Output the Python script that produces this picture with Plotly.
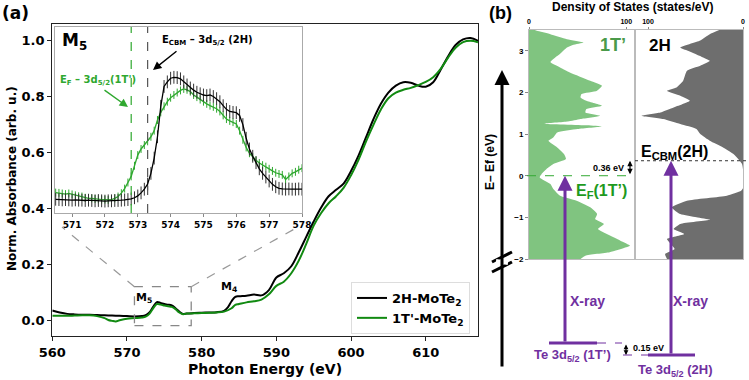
import plotly.graph_objects as go

W, H = 749, 380

# ---------------- DATA ----------------
# Panel (a) main XAS spectra
e_2h = [560, 561, 562, 563, 564, 565, 566, 567, 568, 569, 570, 571, 572, 572.5, 573, 573.5,
        574, 574.5, 575, 575.5, 576, 576.5, 577, 577.5, 578, 579, 580, 581, 582, 583, 583.5,
        584, 584.5, 585, 586, 587, 588, 589, 590, 591, 592, 593, 594, 595, 596, 597, 598,
        599, 600, 601, 602, 603, 604, 605, 606, 607, 608, 609, 610, 611, 612, 613, 614,
        615, 616, 617]
abs_2h = [0.037, 0.030, 0.025, 0.023, 0.022, 0.022, 0.021, 0.020, 0.019, 0.018, 0.017, 0.016,
          0.017, 0.020, 0.030, 0.050, 0.067, 0.064, 0.060, 0.058, 0.055, 0.045, 0.033, 0.025,
          0.026, 0.028, 0.029, 0.030, 0.031, 0.036, 0.048, 0.070, 0.086, 0.088, 0.090, 0.094,
          0.091, 0.110, 0.155, 0.170, 0.195, 0.245, 0.300, 0.355, 0.405, 0.445, 0.468, 0.490,
          0.535, 0.590, 0.655, 0.720, 0.775, 0.815, 0.840, 0.852, 0.850, 0.840, 0.836, 0.852,
          0.897, 0.945, 0.985, 1.005, 1.010, 1.000]

e_1t = [560, 561, 562, 563, 564, 565, 566, 567, 567.5, 568, 568.5, 569, 570, 571, 572, 572.5,
        573, 573.5, 574, 574.5, 575, 575.5, 576, 576.5, 577, 577.5, 578, 579, 580, 581, 582,
        583, 584, 584.5, 585, 586, 587, 588, 589, 590, 591, 592, 593, 594, 595, 596, 597, 598,
        599, 600, 601, 602, 603, 604, 605, 606, 607, 608, 609, 610, 611, 612, 613, 614, 615,
        616, 617]
abs_1t = [0.018, 0.018, 0.018, 0.019, 0.020, 0.020, 0.017, 0.010, 0.003, 0.000, -0.002, 0.002,
          0.008, 0.010, 0.012, 0.015, 0.025, 0.045, 0.060, 0.058, 0.055, 0.052, 0.050, 0.042,
          0.030, 0.024, 0.026, 0.027, 0.028, 0.029, 0.030, 0.033, 0.045, 0.057, 0.060, 0.066,
          0.070, 0.076, 0.095, 0.125, 0.140, 0.170, 0.215, 0.275, 0.340, 0.385, 0.420, 0.445,
          0.475, 0.520, 0.575, 0.640, 0.700, 0.755, 0.795, 0.815, 0.825, 0.832, 0.842, 0.853,
          0.870, 0.900, 0.940, 0.975, 0.995, 1.000, 0.995]

# Inset (M5 edge) with error bars
e_inset = [570.5, 570.6, 570.7, 570.8, 570.9, 571.0, 571.1, 571.2, 571.3, 571.4, 571.5, 571.6,
           571.7, 571.8, 571.9, 572.0, 572.1, 572.2, 572.3, 572.4, 572.5, 572.6, 572.7, 572.8,
           572.9, 573.0, 573.1, 573.2, 573.3, 573.4, 573.5, 573.6, 573.7, 573.8, 573.9, 574.0,
           574.1, 574.2, 574.3, 574.4, 574.5, 574.6, 574.7, 574.8, 574.9, 575.0, 575.1, 575.2,
           575.3, 575.4, 575.5, 575.6, 575.7, 575.8, 575.9, 576.0, 576.1, 576.2, 576.3, 576.4,
           576.5, 576.6, 576.7, 576.8, 576.9, 577.0, 577.1, 577.2, 577.3, 577.4, 577.5, 577.6,
           577.7, 577.8, 577.9, 578.0]
inset_2h = [0.415, 0.414, 0.413, 0.414, 0.413, 0.412, 0.413, 0.412, 0.412, 0.411, 0.412, 0.411,
            0.410, 0.411, 0.410, 0.409, 0.410, 0.410, 0.411, 0.411, 0.412, 0.413, 0.414, 0.416,
            0.420, 0.426, 0.436, 0.448, 0.465, 0.500, 0.550, 0.620, 0.720, 0.785, 0.800, 0.812,
            0.815, 0.814, 0.810, 0.800, 0.790, 0.780, 0.773, 0.766, 0.761, 0.757, 0.755, 0.757,
            0.752, 0.745, 0.735, 0.722, 0.710, 0.703, 0.700, 0.699, 0.690, 0.660, 0.615, 0.580,
            0.556, 0.535, 0.515, 0.500, 0.488, 0.475, 0.464, 0.456, 0.451, 0.449, 0.448, 0.449,
            0.448, 0.448, 0.449, 0.448]
inset_1t = [0.437, 0.436, 0.434, 0.432, 0.434, 0.431, 0.428, 0.425, 0.424, 0.420, 0.418, 0.418,
            0.416, 0.415, 0.414, 0.414, 0.413, 0.414, 0.418, 0.424, 0.435, 0.450, 0.470, 0.490,
            0.525, 0.560, 0.580, 0.593, 0.605, 0.620, 0.640, 0.675, 0.700, 0.720, 0.735, 0.748,
            0.757, 0.765, 0.772, 0.777, 0.774, 0.768, 0.757, 0.750, 0.742, 0.735, 0.728, 0.722,
            0.718, 0.712, 0.703, 0.690, 0.678, 0.672, 0.668, 0.662, 0.640, 0.610, 0.585, 0.566,
            0.553, 0.543, 0.534, 0.527, 0.522, 0.515, 0.508, 0.502, 0.498, 0.495, 0.480, 0.490,
            0.500, 0.505, 0.512, 0.517]
err_2h = 0.021
err_1t = 0.013
e_fermi_1t = 572.8
e_cbm_2h = 573.3

# Panel (b) density of states
dos_e_1t = [3.5, 3.48, 3.4, 3.28, 3.2, 3.14, 3.08, 2.93, 2.73, 2.6, 2.48, 2.28, 2.16, 2.04, 1.96,
            1.88, 1.8, 1.68, 1.6, 1.52, 1.44, 1.36, 1.3, 1.25, 1.21, 1.18, 1.12, 1.04, 0.92, 0.84,
            0.68, 0.52, 0.4, 0.28, 0.16, 0.04, -0.04, -0.2, -0.32, -0.48, -0.6, -0.76, -0.92,
            -1.04, -1.16, -1.28, -1.4, -1.56, -1.68, -1.72, -1.84, -1.92, -2.0]
dos_1t = [6, 8, 22, 39, 56, 45, 39, 32, 22, 32, 42, 63, 75, 70, 54, 53, 59, 75, 59, 58, 73, 53,
          40, 16, 60, 75, 50, 29, 25, 20, 29, 36, 38, 25, 18, 13, 11, 22, 25, 32, 49, 63, 70,
          68, 77, 71, 80, 94, 104, 100, 83, 58, 53]
dos_e_2h = [3.5, 3.4, 3.25, 3.08, 3.0, 2.84, 2.76, 2.64, 2.52, 2.28, 2.12, 2.04, 1.92, 1.8, 1.64,
            1.52, 1.44, 1.36, 1.24, 1.12, 1.0, 0.84, 0.68, 0.52, 0.4, 0.28, 0.15, -0.3, -0.36,
            -0.48, -0.6, -0.76, -0.92, -1.0, -1.06, -1.16, -1.28, -1.4, -1.52, -1.64, -1.76,
            -1.88, -2.0]
dos_2h = [25, 35, 45, 66, 58, 42, 35, 45, 59, 63, 70, 80, 66, 56, 73, 87, 107, 84, 66, 49, 45,
          35, 21, 10, 5, 1, 0, 0, 2, 17, 59, 75, 66, 49, 35, 66, 73, 62, 80, 76, 72, 82, 80]
e_cbm_gap = 0.36
core_shift = 0.15

# ---------------- LAYOUT HELPERS ----------------
def px(x):
    return x / W

def py(y):
    return 1 - y / H

MAIN_X = (52.3, 478.0)
MAIN_Y = (24.0, 336.0)  # top, bottom in pixels
MAIN_XR = [560, 617]
MAIN_YR = [-0.054, 1.06]

INS_X = (55.0, 302.0)
INS_Y = (27.0, 213.0)
INS_XR = [570.48, 578.0]
INS_YR = [0.37, 0.98]

DOS_L, DOS_M, DOS_R = 529.0, 635.0, 743.0
DOS_Y = (30.0, 259.0)
DOS_YR = [-2.0, 3.5]

def main_to_pix(x, y):
    fx = (x - MAIN_XR[0]) / (MAIN_XR[1] - MAIN_XR[0])
    fy = (y - MAIN_YR[0]) / (MAIN_YR[1] - MAIN_YR[0])
    return MAIN_X[0] + fx * (MAIN_X[1] - MAIN_X[0]), MAIN_Y[1] - fy * (MAIN_Y[1] - MAIN_Y[0])

def dos_ypix(e):
    f = (e - DOS_YR[0]) / (DOS_YR[1] - DOS_YR[0])
    return DOS_Y[1] - f * (DOS_Y[1] - DOS_Y[0])

GREEN = "#118a11"
GREEN_IN = "#2fa82f"
PURPLE = "#7030a0"
FA = "DejaVu Sans"
FB = "Liberation Sans"

fig = go.Figure()

# main spectra
fig.add_trace(go.Scatter(x=e_2h, y=abs_2h, mode="lines", line=dict(color="black", width=2, shape="spline"),
                         name="2H-MoTe<sub>2</sub>", xaxis="x", yaxis="y"))
fig.add_trace(go.Scatter(x=e_1t, y=abs_1t, mode="lines", line=dict(color=GREEN, width=2, shape="spline"),
                         name="1T'-MoTe<sub>2</sub>", xaxis="x", yaxis="y"))

# inset
fig.add_trace(go.Scatter(x=e_inset, y=inset_1t, mode="lines", line=dict(color=GREEN_IN, width=1.3),
                         error_y=dict(type="constant", value=err_1t, color=GREEN_IN, thickness=1, width=0),
                         showlegend=False, xaxis="x2", yaxis="y2"))
fig.add_trace(go.Scatter(x=e_inset, y=inset_2h, mode="lines", line=dict(color="black", width=1.3),
                         error_y=dict(type="constant", value=err_2h, color="#333333", thickness=1, width=0),
                         showlegend=False, xaxis="x2", yaxis="y2"))

# DOS
fig.add_trace(go.Scatter(x=dos_1t, y=dos_e_1t, mode="lines", fill="tozerox", line=dict(width=0, color="#80c480", shape="spline", smoothing=0.5),
                         fillcolor="#80c480", showlegend=False, xaxis="x3", yaxis="y3"))
fig.add_trace(go.Scatter(x=dos_2h, y=dos_e_2h, mode="lines", fill="tozerox", line=dict(width=0, color="#6e6e6e", shape="spline", smoothing=0.5),
                         fillcolor="#6e6e6e", showlegend=False, xaxis="x4", yaxis="y4"))

fig.update_layout(
    template="none",
    width=W, height=H, margin=dict(l=0, r=0, t=0, b=0, autoexpand=False),
    paper_bgcolor="white", plot_bgcolor="white",
    showlegend=True, hovermode=False,
    legend=dict(x=px(351), y=py(282), xanchor="left", yanchor="top",
                bordercolor="#dddddd", borderwidth=1, bgcolor="white",
                font=dict(family=FA, size=13, color="black", weight="bold"),
                itemwidth=30, tracegroupgap=0),
    xaxis=dict(domain=[px(MAIN_X[0]), px(MAIN_X[1])], range=MAIN_XR, dtick=10, tick0=560,
               showline=True, mirror=True, linecolor="#222", linewidth=1.2, ticks="outside",
               ticklen=4, tickcolor="#222", showgrid=False, zeroline=False, automargin=False,
               tickfont=dict(family=FA, size=13, color="black", weight="bold"), anchor="y"),
    yaxis=dict(domain=[py(MAIN_Y[1]), py(MAIN_Y[0])], range=MAIN_YR, dtick=0.2, tick0=0,
               tickformat=".1f", showline=True, mirror=True, linecolor="#222", linewidth=1.2,
               ticks="outside", ticklen=4, tickcolor="#222", showgrid=False, zeroline=False,
               automargin=False,
               tickfont=dict(family=FA, size=13, color="black", weight="bold"), anchor="x"),
    xaxis2=dict(domain=[px(INS_X[0]), px(INS_X[1])], range=INS_XR, tickvals=[571, 572, 573, 574, 575, 576, 577, 578],
                showline=True, mirror=True, linecolor="#aaaaaa", linewidth=1, ticks="outside",
                ticklen=3, tickcolor="#888", showgrid=False, zeroline=False, automargin=False,
                tickfont=dict(family=FA, size=9, color="black", weight="bold"), anchor="y2"),
    yaxis2=dict(domain=[py(INS_Y[1]), py(INS_Y[0])], range=INS_YR, showticklabels=False,
                showline=True, mirror=True, linecolor="#aaaaaa", linewidth=1, ticks="",
                showgrid=False, zeroline=False, anchor="x2", automargin=False),
    xaxis3=dict(domain=[px(DOS_L), px(DOS_M)], range=[0, 109], side="top", tickvals=[0, 100],
                showline=True, mirror=True, linecolor="#bbbbbb", linewidth=1, ticks="outside",
                ticklen=2, tickcolor="#888", showgrid=False, zeroline=False, automargin=False,
                tickfont=dict(family=FB, size=7, color="black", weight="bold"), anchor="y3"),
    yaxis3=dict(domain=[py(DOS_Y[1]), py(DOS_Y[0])], range=DOS_YR, tickvals=[-2, -1, 0, 1, 2, 3],
                ticktext=["\u22122", "\u22121", "0", "1", "2", "3"],
                showline=True, mirror=True, linecolor="#bbbbbb", linewidth=1, ticks="outside",
                ticklen=3, tickcolor="#888", showgrid=False, zeroline=False, automargin=False,
                tickfont=dict(family=FB, size=8, color="black", weight="bold"), anchor="x3"),
    xaxis4=dict(domain=[px(DOS_M), px(DOS_R)], range=[113.7, 0], side="top", tickvals=[0, 100],
                showline=True, mirror=True, linecolor="#bbbbbb", linewidth=1, ticks="outside",
                ticklen=2, tickcolor="#888", showgrid=False, zeroline=False, automargin=False,
                tickfont=dict(family=FB, size=7, color="black", weight="bold"), anchor="y4"),
    yaxis4=dict(domain=[py(DOS_Y[1]), py(DOS_Y[0])], range=DOS_YR, showticklabels=False,
                showline=True, mirror=True, linecolor="#bbbbbb", linewidth=1, ticks="",
                showgrid=False, zeroline=False, anchor="x4", matches="y3", automargin=False),
)

shapes = []
ann = []

def text(x, y, t, size, color="black", family=FA, weight="bold", xanchor="center", yanchor="middle", angle=0):
    ann.append(dict(x=px(x), y=py(y), xref="paper", yref="paper", text=t, showarrow=False,
                    xanchor=xanchor, yanchor=yanchor, textangle=angle,
                    font=dict(family=family, size=size, color=color, weight=weight)))

def arrow(x0, y0, x1, y1, color, width, head=2, size=1.0, both=False):
    # tail (x0,y0) -> head (x1,y1) in pixels
    ann.append(dict(x=px(x1), y=py(y1), xref="paper", yref="paper", ax=x0 - x1, ay=y0 - y1,
                    axref="pixel", ayref="pixel", text="", showarrow=True, arrowhead=head,
                    arrowsize=size, arrowwidth=width, arrowcolor=color,
                    arrowside="end+start" if both else "end", startarrowhead=head, startarrowsize=size))

def line(x0, y0, x1, y1, color, width, dash="solid"):
    shapes.append(dict(type="line", xref="paper", yref="paper", x0=px(x0), y0=py(y0), x1=px(x1), y1=py(y1),
                       line=dict(color=color, width=width, dash=dash)))

# ---- Panel (a) ----
text(15, 13, "(a)", 17)
text(12, 179, "Norm. Absorbance (arb. u.)", 12, angle=-90)
text(265, 369, "Photon Energy (eV)", 14)

# zoom rectangle and connectors
rx0, ry0 = main_to_pix(571.0, -0.017)
rx1, ry1 = main_to_pix(578.6, 0.122)
shapes.append(dict(type="rect", xref="x", yref="y", x0=571.0, x1=578.6, y0=-0.017, y1=0.122,
                   line=dict(color="#888888", width=1.3, dash="dash")))
line(rx0, ry1, INS_X[0] + 7, INS_Y[1] + 14, "#999999", 1.2, "dash")
line(rx1, ry1, INS_X[1] - 4, INS_Y[1] + 14, "#999999", 1.2, "dash")
text(144, 298, "M<sub>5</sub>", 11)
text(229, 287, "M<sub>4</sub>", 11)

# inset vertical marker lines
shapes.append(dict(type="line", xref="x2", yref="paper", x0=e_fermi_1t, x1=e_fermi_1t,
                   y0=py(INS_Y[1]), y1=py(INS_Y[0]), line=dict(color=GREEN_IN, width=1.2, dash="dash")))
shapes.append(dict(type="line", xref="x2", yref="paper", x0=e_cbm_2h, x1=e_cbm_2h,
                   y0=py(INS_Y[1]), y1=py(INS_Y[0]), line=dict(color="#555555", width=1.2, dash="dash")))
text(60, 41, "M<sub>5</sub>", 17, xanchor="left")
text(160, 40, "E<sub>CBM</sub> \u2013 3d<sub>5/2</sub> (2H)", 10, xanchor="left")
text(58, 80, "E<sub>F</sub> \u2013 3d<sub>5/2</sub>(1T')", 10, color=GREEN_IN, xanchor="left")
arrow(178, 50, 153, 70, "black", 1.4, head=2, size=1.2)
arrow(103, 89, 128, 107, GREEN_IN, 1.4, head=2, size=1.2)

# ---- Panel (b) ----
text(500, 13, "(b)", 18, family=FB)
text(632, 7, "Density of States (states/eV)", 12, family=FB)
text(490, 162, "E\u2013 Ef (eV)", 12, family=FB, angle=-90)

# big energy axis arrow with break marks
arrow(502, 368, 502, 70, "black", 3, head=2, size=1.0)
line(492, 262, 512, 252, "black", 3)
line(492, 272, 512, 262, "black", 3)
line(496, 261, 508, 263, "white", 4)

# Fermi level and CBM lines
y_ef = dos_ypix(0.0)
y_cbm = dos_ypix(e_cbm_gap)
shapes.append(dict(type="line", xref="paper", yref="y3", x0=px(527), x1=px(DOS_M), y0=0, y1=0,
                   line=dict(color="#33aa33", width=1, dash="dash")))
shapes.append(dict(type="line", xref="paper", yref="y3", x0=px(DOS_M), x1=px(749), y0=e_cbm_gap, y1=e_cbm_gap,
                   line=dict(color="#333333", width=1, dash="dot")))
arrow(630, y_ef, 630, y_cbm, "black", 1.2, head=2, size=0.9, both=True)
text(626, 168, "0.36 eV", 9, family=FB, xanchor="right")

text(613, 45, "1T\u2019", 18, color="#4a9a4a", family=FB)
text(660, 45, "2H", 17, family=FB)
text(601, 191, "E<sub>F</sub>(1T\u2019)", 16, color="#1e9a1e", family=FB)
text(674, 152, "E<sub>CBM</sub>(2H)", 16, family=FB)

# core levels and X-ray arrows
y_1t_core = 343
y_2h_core = 355
line(549, y_1t_core, 597, y_1t_core, PURPLE, 3)
line(597, y_1t_core, 622, y_1t_core, PURPLE, 1, "dash")
line(648, y_2h_core, 695, y_2h_core, PURPLE, 3)
line(623, y_2h_core, 648, y_2h_core, PURPLE, 1, "dash")
arrow(565, y_1t_core, 565, y_ef, PURPLE, 3, head=2, size=1.0)
arrow(671, y_2h_core, 671, y_cbm, PURPLE, 3, head=2, size=1.0)
arrow(626, y_1t_core, 626, y_2h_core, "black", 1.2, head=2, size=0.8, both=True)
text(631, 348, "0.15 eV", 9, family=FB, xanchor="left")
text(587, 301, "X-ray", 14, color=PURPLE, family=FB)
text(690, 301, "X-ray", 14, color=PURPLE, family=FB)
text(572, 355, "Te 3d<sub>5/2</sub> (1T\u2019)", 13, color=PURPLE, family=FB)
text(675, 370, "Te 3d<sub>5/2</sub> (2H)", 13, color=PURPLE, family=FB)

fig.update_layout(shapes=shapes, annotations=ann)
fig.write_html("out.html", config={"displayModeBar": False, "staticPlot": True},
               post_script="document.body.style.margin='0px';document.body.style.overflow='hidden';")
